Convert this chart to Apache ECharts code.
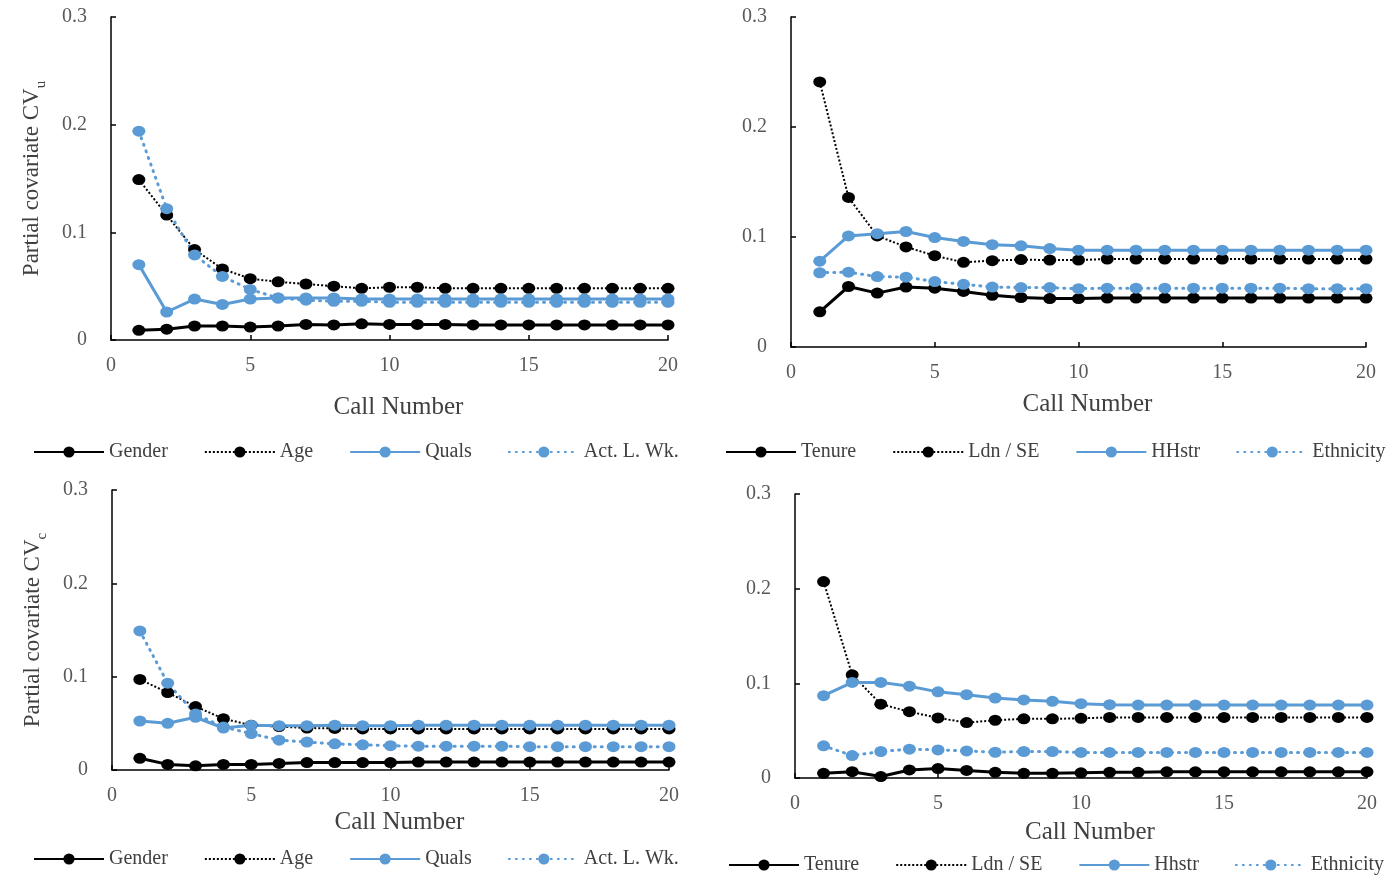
<!DOCTYPE html>
<html>
<head>
<meta charset="utf-8">
<script src="https://cdn.jsdelivr.net/npm/echarts@6/dist/echarts.min.js"></script>
<style>
  html, body { margin: 0; padding: 0; background: #fff; }
  #chart { width: 1390px; height: 875px; }
</style>
</head>
<body>
<div id="chart"></div>
<script>
// Call numbers shared by every panel
const callNumbers = [1, 2, 3, 4, 5, 6, 7, 8, 9, 10, 11, 12, 13, 14, 15, 16, 17, 18, 19, 20];
const xTicks = [0, 5, 10, 15, 20];
const yTicks = [0, 0.1, 0.2, 0.3];

// Panel A: partial covariate CVu, individual covariates
const cvuGender = [0.009, 0.010, 0.013, 0.013, 0.012, 0.013, 0.0145, 0.014, 0.015, 0.0145, 0.0145, 0.0145, 0.014, 0.014, 0.014, 0.014, 0.014, 0.014, 0.014, 0.014];
const cvuAge    = [0.149, 0.116, 0.084, 0.066, 0.057, 0.054, 0.052, 0.050, 0.048, 0.049, 0.049, 0.048, 0.048, 0.048, 0.048, 0.048, 0.048, 0.048, 0.048, 0.048];
const cvuQuals  = [0.070, 0.026, 0.038, 0.033, 0.038, 0.039, 0.039, 0.039, 0.038, 0.038, 0.038, 0.038, 0.038, 0.038, 0.038, 0.038, 0.038, 0.038, 0.038, 0.038];
const cvuActLWk = [0.194, 0.122, 0.079, 0.059, 0.047, 0.039, 0.037, 0.036, 0.036, 0.035, 0.035, 0.035, 0.035, 0.035, 0.035, 0.035, 0.035, 0.035, 0.035, 0.035];

// Panel B: partial covariate CVu, household / area covariates
const cvuTenure    = [0.032, 0.055, 0.049, 0.0545, 0.0535, 0.0505, 0.047, 0.045, 0.044, 0.044, 0.0445, 0.0445, 0.0445, 0.0445, 0.0445, 0.0445, 0.0445, 0.0445, 0.0445, 0.0445];
const cvuLdnSE     = [0.241, 0.136, 0.101, 0.091, 0.083, 0.077, 0.0785, 0.0795, 0.079, 0.079, 0.080, 0.080, 0.080, 0.080, 0.080, 0.080, 0.080, 0.080, 0.080, 0.080];
const cvuHHstr     = [0.078, 0.101, 0.103, 0.105, 0.0995, 0.096, 0.093, 0.092, 0.0895, 0.088, 0.088, 0.088, 0.088, 0.088, 0.088, 0.088, 0.088, 0.088, 0.088, 0.088];
const cvuEthnicity = [0.0675, 0.068, 0.064, 0.0635, 0.0595, 0.057, 0.0545, 0.054, 0.054, 0.053, 0.0535, 0.0535, 0.0535, 0.0535, 0.0535, 0.0535, 0.0535, 0.053, 0.053, 0.053];

// Panel C: partial covariate CVc, individual covariates
const cvcGender = [0.0125, 0.006, 0.0045, 0.006, 0.006, 0.007, 0.008, 0.008, 0.008, 0.008, 0.0085, 0.0085, 0.0085, 0.0085, 0.0085, 0.0085, 0.0085, 0.0085, 0.0085, 0.0085];
const cvcAge    = [0.097, 0.083, 0.068, 0.055, 0.048, 0.0465, 0.045, 0.0445, 0.044, 0.044, 0.044, 0.044, 0.044, 0.044, 0.044, 0.044, 0.044, 0.044, 0.044, 0.044];
const cvcQuals  = [0.0525, 0.050, 0.0565, 0.045, 0.048, 0.0475, 0.0475, 0.048, 0.0475, 0.0475, 0.048, 0.048, 0.048, 0.048, 0.048, 0.048, 0.048, 0.048, 0.048, 0.048];
const cvcActLWk = [0.149, 0.093, 0.060, 0.046, 0.039, 0.032, 0.030, 0.028, 0.027, 0.026, 0.0255, 0.0255, 0.0255, 0.0255, 0.025, 0.025, 0.025, 0.025, 0.025, 0.025];

// Panel D: partial covariate CVc, household / area covariates
const cvcTenure    = [0.005, 0.0067, 0.0015, 0.0085, 0.010, 0.008, 0.006, 0.005, 0.005, 0.0055, 0.006, 0.006, 0.0065, 0.0065, 0.0065, 0.0065, 0.0065, 0.0065, 0.0065, 0.0065];
const cvcLdnSE     = [0.2075, 0.109, 0.078, 0.070, 0.0635, 0.0585, 0.061, 0.0625, 0.0625, 0.063, 0.064, 0.064, 0.064, 0.064, 0.064, 0.064, 0.064, 0.064, 0.064, 0.064];
const cvcHhstr     = [0.087, 0.101, 0.101, 0.097, 0.091, 0.088, 0.0845, 0.0825, 0.081, 0.0785, 0.0775, 0.077, 0.077, 0.077, 0.077, 0.077, 0.077, 0.077, 0.077, 0.077];
const cvcEthnicity = [0.034, 0.0237, 0.028, 0.0305, 0.0297, 0.0286, 0.0272, 0.028, 0.028, 0.027, 0.027, 0.027, 0.027, 0.027, 0.027, 0.027, 0.027, 0.027, 0.027, 0.027];

const BLUE = '#5b9bd5';
const BLACK = '#000000';
const SERIF = '"Liberation Serif", "Times New Roman", serif';

const styles = {
  solidBlack:  { color: BLACK, lineStyle: { color: BLACK, width: 3, type: 'solid' } },
  dottedBlack: { color: BLACK, lineStyle: { color: BLACK, width: 2, type: [2, 2] } },
  solidBlue:   { color: BLUE,  lineStyle: { color: BLUE,  width: 3, type: 'solid' } },
  dottedBlue:  { color: BLUE,  lineStyle: { color: BLUE,  width: 3, type: [1, 6], cap: 'round' } }
};

function lineSeries(name, values, idx, style) {
  return {
    type: 'line',
    name: name,
    xAxisIndex: idx,
    yAxisIndex: idx,
    data: values.map((v, i) => [callNumbers[i], v]),
    symbol: 'circle',
    symbolSize: [13, 11],
    showSymbol: true,
    itemStyle: { color: style.color },
    lineStyle: style.lineStyle,
    emphasis: { disabled: true }
  };
}

const grids = [
  { left: 111, top: 17,  width: 557, height: 323 },
  { left: 791, top: 17,  width: 575, height: 330 },
  { left: 112, top: 490, width: 557, height: 280 },
  { left: 795, top: 494, width: 572, height: 284 }
];

const xNameGaps = [55, 45, 40, 42];
const yTitles = [
  '{m|Partial covariate CV}{s|u}',
  '',
  '{m|Partial covariate CV}{s|c}',
  ''
];

const xAxes = grids.map((g, i) => ({
  type: 'value',
  gridIndex: i,
  min: xTicks[0],
  max: xTicks[xTicks.length - 1],
  interval: xTicks[1] - xTicks[0],
  name: 'Call Number',
  nameLocation: 'middle',
  nameGap: xNameGaps[i],
  nameTextStyle: { fontFamily: SERIF, fontSize: 25, color: '#404040', padding: [0, 0, 0, 18] },
  axisLine: { show: true, lineStyle: { color: '#000', width: 1.5 } },
  axisTick: { show: true, inside: true, length: 5, lineStyle: { color: '#000', width: 1.5 } },
  axisLabel: { fontFamily: SERIF, fontSize: 20, color: '#595959', margin: 16 },
  splitLine: { show: false }
}));

const yAxes = grids.map((g, i) => ({
  type: 'value',
  gridIndex: i,
  min: yTicks[0],
  max: yTicks[yTicks.length - 1],
  interval: yTicks[1] - yTicks[0],
  name: yTitles[i],
  nameLocation: 'middle',
  nameRotate: 90,
  nameGap: 64,
  nameTextStyle: {
    rich: {
      m: { fontFamily: SERIF, fontSize: 23, color: '#404040', lineHeight: 30, verticalAlign: 'middle' },
      s: { fontFamily: SERIF, fontSize: 15, color: '#404040', lineHeight: 30, verticalAlign: 'bottom', padding: [0, 0, -2, 0] }
    }
  },
  axisLine: { show: true, lineStyle: { color: '#000', width: 1.5 } },
  axisTick: { show: true, inside: true, length: 5, lineStyle: { color: '#000', width: 1.5 } },
  axisLabel: {
    fontFamily: SERIF, fontSize: 20, color: '#595959', margin: 24,
    formatter: v => (Math.round(v * 10) / 10).toString()
  },
  splitLine: { show: false }
}));

const legendText = { fontFamily: SERIF, fontSize: 20, color: '#404040' };
function legend(names, left, top) {
  return {
    data: names,
    left: left,
    top: top,
    padding: 0,
    orient: 'horizontal',
    itemWidth: 70,
    itemHeight: 14,
    itemGap: 36,
    selectedMode: false,
    textStyle: legendText
  };
}

const series = [
  lineSeries('Gender', cvuGender, 0, styles.solidBlack),
  lineSeries('Age', cvuAge, 0, styles.dottedBlack),
  lineSeries('Quals', cvuQuals, 0, styles.solidBlue),
  lineSeries('Act. L. Wk.', cvuActLWk, 0, styles.dottedBlue),

  lineSeries('Tenure', cvuTenure, 1, styles.solidBlack),
  lineSeries('Ldn / SE', cvuLdnSE, 1, styles.dottedBlack),
  lineSeries('HHstr', cvuHHstr, 1, styles.solidBlue),
  lineSeries('Ethnicity', cvuEthnicity, 1, styles.dottedBlue),

  lineSeries('Gender', cvcGender, 2, styles.solidBlack),
  lineSeries('Age', cvcAge, 2, styles.dottedBlack),
  lineSeries('Quals', cvcQuals, 2, styles.solidBlue),
  lineSeries('Act. L. Wk.', cvcActLWk, 2, styles.dottedBlue),

  lineSeries('Tenure', cvcTenure, 3, styles.solidBlack),
  lineSeries('Ldn / SE', cvcLdnSE, 3, styles.dottedBlack),
  lineSeries('Hhstr', cvcHhstr, 3, styles.solidBlue),
  lineSeries('Ethnicity', cvcEthnicity, 3, styles.dottedBlue)
];

const chart = echarts.init(document.getElementById('chart'), null, { renderer: 'canvas' });
chart.setOption({
  animation: false,
  backgroundColor: '#ffffff',
  grid: grids,
  xAxis: xAxes,
  yAxis: yAxes,
  legend: [
    legend(['Gender', 'Age', 'Quals', 'Act. L. Wk.'], 33, 442),
    legend(['Tenure', 'Ldn / SE', 'HHstr', 'Ethnicity'], 725, 442),
    legend(['Gender', 'Age', 'Quals', 'Act. L. Wk.'], 33, 849),
    legend(['Tenure', 'Ldn / SE', 'Hhstr', 'Ethnicity'], 728, 855)
  ],
  series: series
});
</script>
</body>
</html>
